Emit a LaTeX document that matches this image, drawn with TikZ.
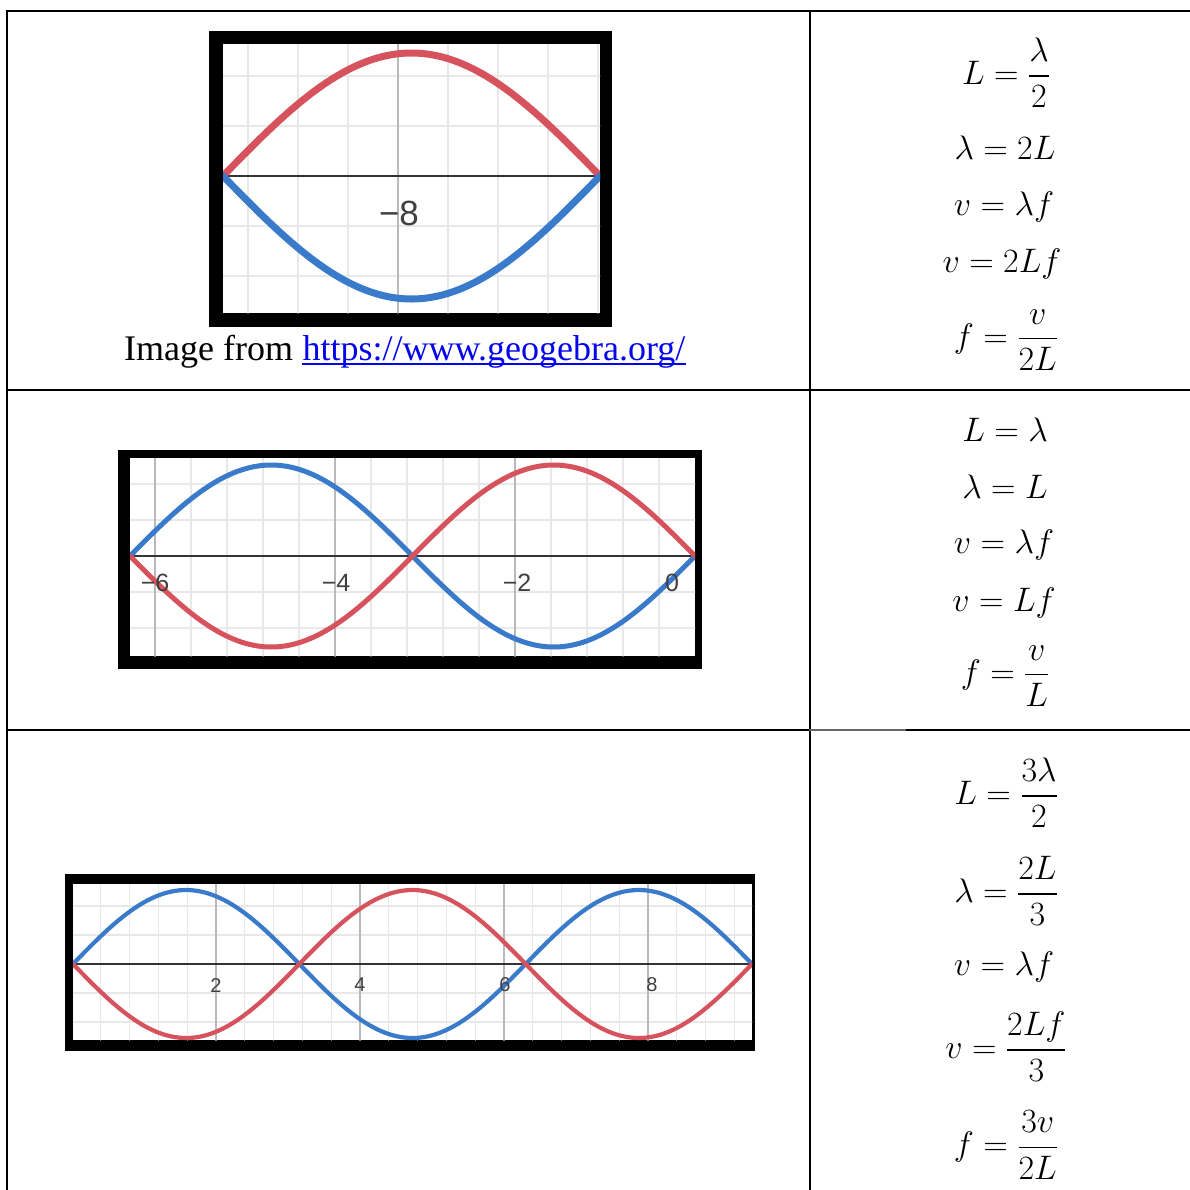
\RequirePackage{fix-cm}
\documentclass[tikz,border=0pt]{standalone}
\usepackage{amsmath,amssymb}
\usepackage{fontspec}
\setmainfont{Liberation Serif}
\newfontfamily\ggbfont{Liberation Sans}
\usepackage{tikz}
\definecolor{ggbred}{RGB}{214,82,92}
\definecolor{ggbblue}{RGB}{58,122,202}
\definecolor{gridminor}{RGB}{232,232,232}
\definecolor{gridmajor}{RGB}{185,185,185}
\definecolor{linkblue}{RGB}{5,5,235}

\begin{document}
\begin{tikzpicture}[x=1pt, y=-1pt, line join=round, line cap=round,
	rule/.style={line width=2pt, line cap=rect},
	minor/.style={gridminor, line width=1.2pt},
	major/.style={gridmajor, line width=1.4pt},
	axisline/.style={black!80, line width=2.6pt},
	redwave/.style={ggbred, line width=#1},
	bluewave/.style={ggbblue, line width=#1},
	eq/.style={inner sep=0pt, font=\fontsize{34}{40}\selectfont},
	tick/.style={inner sep=0pt, text=black!75, font=\ggbfont\fontsize{#1}{#1}\selectfont}]
	\useasboundingbox (0,0) rectangle (1190,1189);
	% Table grid
	\path (7,11) coordinate (TL) (810,11) coordinate (TM) (1190,11) coordinate (TR)
	(7,1189) coordinate (BL) (810,1189) coordinate (BM);
	\draw[rule] (TL) -- (TR);
	\draw[rule] (TL) -- (BL);
	\draw[rule] (TM) -- (BM);
	\draw[rule] (7,390) -- (1190,390);
	\draw[rule] (7,730) -- (810,730) (905,730) -- (1190,730);
	\draw[rule, black!60] (810,730) -- (905,730);

	% First graph: half wavelength
	\fill[black] (209,31) rectangle (612,327);
	\fill[white] (223,44) rectangle (600,313);
	\begin{scope}
		\clip (223,44) rectangle (600,313);
		\foreach \gx in {248,298,348,448,498,548,598}
		\draw[minor] (\gx,44) -- (\gx,313);
		\foreach \gy in {76,126,226,276}
		\draw[minor] (223,\gy) -- (600,\gy);
		\draw[major] (398,44) -- (398,313);
		\draw[axisline, line cap=butt] (223,176) -- (600,176);
		\draw[redwave=7pt] plot[domain=0:180, samples=61, smooth] ({223+\x/180*377},{176-123*sin(\x)});
		\draw[bluewave=7pt] plot[domain=0:180, samples=61, smooth] ({223+\x/180*377},{176+123*sin(\x)});
	\end{scope}
	\node[tick=35] (t1) at (399,213) {−8};
	% Source line under the first graph
	\node[inner sep=0pt, anchor=base west, font=\fontsize{36}{42}\selectfont] (credit) at (124,360) {Image from};
	\node[inner sep=0pt, anchor=base west, text=linkblue, font=\fontsize{36}{42}\selectfont] (link) at ([xshift=9]credit.base east) {https://www.geogebra.org/};
	\draw[linkblue, line width=1.8pt, line cap=butt] ([yshift=-4]link.base west) -- ([yshift=-4]link.base east);

	% Second graph: one wavelength
	\fill[black] (118,450) rectangle (702,669);
	\fill[white] (130,458) rectangle (695,656);
	\begin{scope}
		\clip (130,458) rectangle (695,656);
		\foreach \k in {1,...,16}
		\draw[minor] ({695-36*\k},458) -- ++(0,198);
		\foreach \gy in {484,520,592,628}
		\draw[minor] (130,\gy) -- (695,\gy);
		\foreach \gx in {155,335,515}
		\draw[major] (\gx,458) -- (\gx,656);
		\draw[axisline, line cap=butt] (130,556) -- (695,556);
		\draw[bluewave=5pt] plot[domain=0:360, samples=91, smooth] ({130+\x/360*565},{556-91*sin(\x)});
		\draw[redwave=5pt] plot[domain=0:360, samples=91, smooth] ({130+\x/360*565},{556+91*sin(\x)});
	\end{scope}
	\foreach \lx/\lt in {155/−6, 336/−4, 517/−2, 672/0}
	\node[tick=25] at (\lx,583) {\lt};

	% Third graph: one and a half wavelengths
	\fill[black] (65,874) rectangle (755,1051);
	\fill[white] (73,884) rectangle (752,1040);
	\begin{scope}
		\clip (73,884) rectangle (752,1040);
		\foreach \k in {1,...,23}
		\draw[minor] ({72+28.8*\k},884) -- ++(0,156);
		\foreach \gy in {906,935,993,1022}
		\draw[minor] (73,\gy) -- (752,\gy);
		\foreach \gx in {216,360,504,648}
		\draw[major] (\gx,884) -- (\gx,1040);
		\draw[axisline, line width=2.2pt, line cap=butt] (73,964) -- (752,964);
		\draw[bluewave=4.2pt] plot[domain=0:540, samples=121, smooth] ({73+\x/540*679},{964-74*sin(\x)});
		\draw[redwave=4.2pt] plot[domain=0:540, samples=121, smooth] ({73+\x/540*679},{964+74*sin(\x)});
	\end{scope}
	\foreach \lx/\lt in {216/2, 360/4, 505/6, 652/8}
	\node[tick=20] at (\lx,985) {\lt};

	% Formulas, first row
	\node[eq] (r1a) at (1006,73) {$L = \dfrac{\lambda}{2}$};
	\node[eq] (r1b) at (1005,148) {$\lambda = 2L$};
	\node[eq] (r1c) at (1004,207) {$v = \lambda f$};
	\node[eq] (r1d) at (1002,264) {$v = 2Lf$};
	\node[eq] (r1e) at (1006,340) {$f = \dfrac{v}{2L}$};
	% Formulas, second row
	\node[eq] (r2a) at (1005,430) {$L = \lambda$};
	\node[eq] (r2b) at (1005,487) {$\lambda = L$};
	\node[eq] (r2c) at (1004,545) {$v = \lambda f$};
	\node[eq] (r2d) at (1004,603) {$v = Lf$};
	\node[eq] (r2e) at (1005,676) {$f = \dfrac{v}{L}$};
	% Formulas, third row
	\node[eq] (r3a) at (1006,793) {$L = \dfrac{3\lambda}{2}$};
	\node[eq] (r3b) at (1006,891) {$\lambda = \dfrac{2L}{3}$};
	\node[eq] (r3c) at (1004,967) {$v = \lambda f$};
	\node[eq] (r3d) at (1006,1047) {$v = \dfrac{2Lf}{3}$};
	\node[eq] (r3e) at (1006,1145) {$f = \dfrac{3v}{2L}$};
\end{tikzpicture}
\end{document}
